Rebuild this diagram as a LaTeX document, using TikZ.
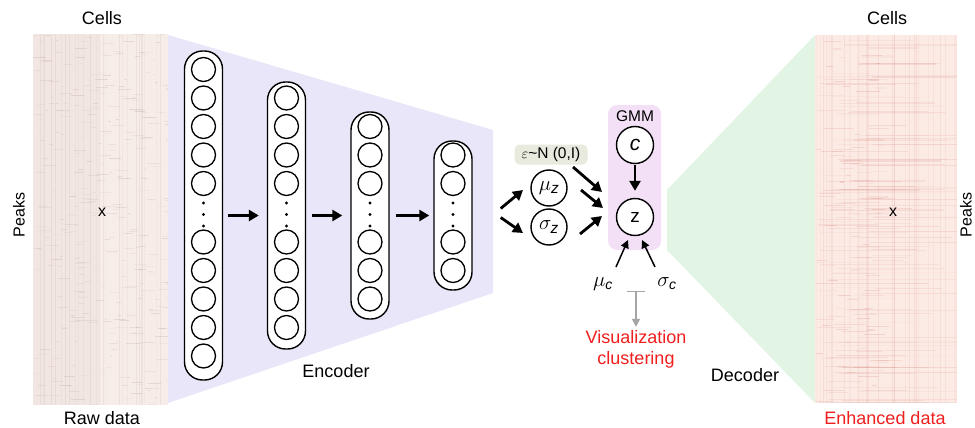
\documentclass[tikz,border=0pt]{standalone}
\usepackage{fontspec}
\usepackage{amsmath}
\setmainfont{Liberation Sans}
\usetikzlibrary{arrows.meta,calc}
\definecolor{encfill}{RGB}{232,230,248}
\definecolor{decfill}{RGB}{226,245,229}
\definecolor{gmmfill}{RGB}{243,224,246}
\definecolor{epsfill}{RGB}{231,234,220}
\definecolor{rawbg}{RGB}{246,236,232}
\definecolor{rawink}{RGB}{170,150,145}
\definecolor{enhbg}{RGB}{252,234,229}
\definecolor{enhink}{RGB}{205,110,100}
\definecolor{txtred}{RGB}{240,30,30}
\definecolor{tgray}{RGB}{165,165,165}
\begin{document}
\begin{tikzpicture}[x=1pt,y=-1pt,
  neuron/.style={circle, draw, fill=white, line width=1.3pt, minimum size=24pt, inner sep=0pt},
  layerbox/.style={draw, fill=white, line width=1.4pt, rounded corners=18pt, minimum width=38pt, inner sep=0pt},
  latent/.style={circle, draw, fill=white, line width=1.4pt, minimum size=36pt, inner sep=0pt},
  bigarrow/.style={line width=2.8pt, -{Triangle[length=10pt,width=11pt]}},
  thinarrow/.style={line width=1.5pt, -{Triangle[length=8pt,width=8pt]}},
  lbl/.style={font=\fontsize{18}{21}\selectfont, inner sep=0pt},
  smalllbl/.style={font=\fontsize{16}{19}\selectfont, inner sep=0pt},
  ]
\path[use as bounding box] (0,0) rectangle (975,428);
\clip (0,0) rectangle (975,428);

% encoder / decoder backgrounds
\fill[encfill] (168,35) -- (493,130) -- (493,293) -- (168,403) -- cycle;
\fill[decfill] (667,190) -- (815,35) -- (815,403) -- (667,250) -- cycle;

% raw data matrix
\begin{scope}
  \clip (33,34) rectangle (168,405);
  \fill[rawbg] (33,34) rectangle (168,405);
  \fill[rawink, opacity=0.06] (33,34) rectangle (100,405);
  \pgfmathsetseed{11}
  \foreach \i in {1,...,320}{
    \pgfmathsetmacro{\xa}{33+135*rnd}
    \pgfmathsetmacro{\ya}{34+371*rnd}
    \pgfmathsetmacro{\seglen}{2+12*rnd}
    \pgfmathsetmacro{\op}{0.06+0.18*rnd}
    \draw[rawink, line width=0.7pt, opacity=\op] (\xa,\ya) -- ++(\seglen,0);
  }
  \foreach \i in {1,...,26}{
    \pgfmathsetmacro{\xa}{33+135*rnd}
    \pgfmathsetmacro{\op}{0.04+0.1*rnd}
    \draw[rawink, line width=0.7pt, opacity=\op] (\xa,34) -- (\xa,405);
  }
\end{scope}

% enhanced data matrix
\begin{scope}
  \clip (815,35) rectangle (957,403);
  \fill[enhbg] (815,35) rectangle (957,403);
  \pgfmathsetseed{5}
  \foreach \i in {1,...,130}{
    \pgfmathsetmacro{\xa}{815+60*rnd}
    \pgfmathsetmacro{\ya}{35+368*rnd}
    \pgfmathsetmacro{\seglen}{20+120*rnd}
    \pgfmathsetmacro{\op}{0.03+0.12*rnd}
    \draw[enhink, line width=1.1pt, opacity=\op] (\xa,\ya) -- ++(\seglen,0);
  }
  \foreach \i in {1,...,90}{
    \pgfmathsetmacro{\xa}{815+65*rnd}
    \pgfmathsetmacro{\ya}{35+368*rnd}
    \pgfmathsetmacro{\seglen}{4+20*rnd}
    \pgfmathsetmacro{\op}{0.06+0.16*rnd}
    \draw[enhink, line width=1.1pt, opacity=\op] (\xa,\ya) -- ++(\seglen,0);
  }
  \foreach \i in {1,...,34}{
    \pgfmathsetmacro{\xa}{815+142*rnd}
    \pgfmathsetmacro{\op}{0.03+0.08*rnd}
    \draw[enhink, line width=0.9pt, opacity=\op] (\xa,35) -- (\xa,403);
  }
\end{scope}

% labels around matrices
\node[lbl] (cells1) at (102,18) {Cells};
\node[smalllbl, rotate=90] (peaks1) at (19,215) {Peaks};
\node[smalllbl] (x1) at (102,212) {x};
\node[lbl] (raw) at (102,418) {Raw data};
\node[lbl] (cells2) at (887,18) {Cells};
\node[smalllbl, rotate=90] (peaks2) at (966,215) {Peaks};
\node[smalllbl] (x2) at (893,212) {x};
\node[lbl, text=txtred] (enh) at (885,418) {Enhanced data};
\node[lbl] (enc) at (336,371) {Encoder};
\node[lbl] (dec) at (745,375) {Decoder};

% encoder layers
\node[layerbox, minimum height=329pt] (col1) at (203.5,215.5) {};
\node[layerbox, minimum height=267pt] (col2) at (286.5,215.5) {};
\node[layerbox, minimum height=207pt] (col3) at (370,215.5) {};
\node[layerbox, minimum height=149pt] (col4) at (453,215.5) {};
\foreach \c/\cx/\n in {1/203.5/5, 2/286.5/4, 3/370/3, 4/453/2}{
  \foreach \k in {1,...,\n}{
    \node[neuron] (n\c t\k) at (\cx,{183.5-28.5*(\k-1)}) {};
    \node[neuron] (n\c b\k) at (\cx,{242+28.5*(\k-1)}) {};
  }
  \foreach \dy in {203,214.5,226}
    \fill (\cx,\dy) circle[radius=1.7pt];
}
\draw[bigarrow, shorten <=5pt, shorten >=8pt] (col1.east) -- (col2.west);
\draw[bigarrow, shorten <=6pt, shorten >=8pt] (col2.east) -- (col3.west);
\draw[bigarrow, shorten <=6pt, shorten >=4pt] (col3.east) -- (col4.west);

% latent variables
\node[latent] (muz) at (549,188) {\fontsize{22}{24}\selectfont$\mu_{\textit{z}}$};
\node[latent] (sigz) at (549,227) {\fontsize{22}{24}\selectfont$\sigma_{\textit{z}}$};
\node[draw=none, fill=epsfill, rounded corners=5pt, minimum width=73pt, minimum height=20pt, inner sep=0pt,
      font=\fontsize{15.5}{17}\selectfont] (eps) at (551,154.5) {$\varepsilon$\textasciitilde N (0,I)};
\coordinate (split1) at ($(col4.east)+(28,-7)$);
\coordinate (split2) at ($(col4.east)+(28,2)$);
\draw[bigarrow] (split1) -- ($(muz.center)+(-26,2)$);
\draw[bigarrow] (split2) -- ($(sigz.center)+(-26,6)$);

% GMM
\node[fill=gmmfill, rounded corners=9pt, minimum width=53pt, minimum height=145pt, inner sep=0pt] (gmm) at (634.5,177.5) {};
\node[font=\fontsize{15.5}{17}\selectfont, inner sep=0pt] (gmmlbl) at (635,116) {GMM};
\node[latent, minimum size=37pt] (c) at (635,145) {\fontsize{21}{23}\selectfont\textit{c}};
\node[latent, minimum size=37pt] (z) at (635,217) {\fontsize{19}{21}\selectfont z};
\draw[bigarrow, shorten <=1pt, shorten >=7pt] (c) -- (z);
\draw[bigarrow] ($(eps.center)+(22,12.5)$) -- ($(z.center)+(-33,-25)$);
\draw[bigarrow] ($(muz.center)+(32,2)$) -- ($(z.center)+(-32,-9)$);
\draw[bigarrow] ($(sigz.center)+(31,7)$) -- ($(z.center)+(-33,-1)$);

% GMM parameters
\node[inner sep=0pt, font=\fontsize{20}{22}\selectfont] (muc) at (603,284) {$\mu_{\textit{c}}$};
\node[inner sep=0pt, font=\fontsize{20}{22}\selectfont] (sigc) at (667,284) {$\sigma_{\textit{c}}$};
\draw[thinarrow] ($(muc.center)+(13,-17)$) -- ($(z.center)+(-7,23)$);
\draw[thinarrow] ($(sigc.center)+(-12,-17)$) -- ($(z.center)+(7,23)$);

% output
\node[lbl, text=txtred, align=center] (vis) at (636,349) {Visualization\\clustering};
\coordinate (tbar) at ($(z.center)+(1,74)$);
\draw[tgray, line width=1.3pt, {Bar[width=18pt,line width=1.3pt]}-{Triangle[length=8pt,width=8pt]}, shorten >=3pt] (tbar) -- (vis.north);
\end{tikzpicture}
\end{document}
